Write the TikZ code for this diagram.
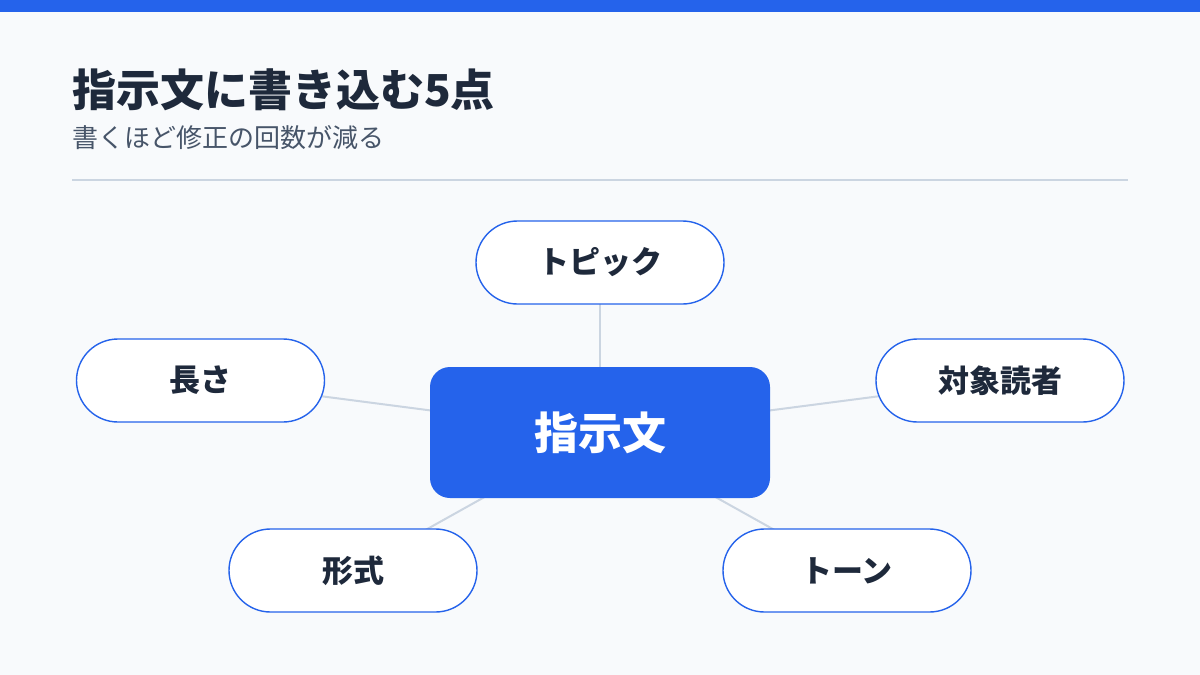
\documentclass[tikz,border=0pt]{standalone}
\usepackage{fontspec}
\newfontfamily\jp{Noto Sans CJK JP}
\usetikzlibrary{backgrounds}
\definecolor{bgc}{HTML}{F8FAFC}
\definecolor{accent}{HTML}{2563EB}
\definecolor{ink}{HTML}{1E293B}
\definecolor{sub}{HTML}{475569}
\definecolor{rule}{HTML}{CBD5E1}
\tikzset{
  txt/.style={inner sep=0pt, anchor=west},
  pill/.style={draw=accent, line width=1.4pt, fill=white, rounded corners=41.5pt,
    minimum width=248pt, minimum height=83pt, inner sep=0pt,
    font=\jp\bfseries\fontsize{31}{36}\selectfont, text=ink},
  hub/.style={fill=accent, rounded corners=20pt, minimum width=340pt, minimum height=131pt,
    inner sep=0pt, font=\jp\bfseries\fontsize{44}{50}\selectfont, text=white},
  edge/.style={draw=rule, line width=2pt}
}
\begin{document}
\begin{tikzpicture}[x=1pt,y=-1pt]
\useasboundingbox (0,0) rectangle (1200,675);
\node[txt, font=\jp\bfseries\fontsize{44}{50}\selectfont, text=ink] (title) at (72,90) {指示文に書き込む5点};
\node[txt, font=\jp\fontsize{26}{30}\selectfont, text=sub] (subtitle) at (72,138) {書くほど修正の回数が減る};
\coordinate (rl) at (72,180);
\coordinate (rr) at (1128,180);
\draw[rule, line width=1.2pt] (rl) -- (rr);
\node[hub] (hub) at (600,432.5) {指示文};
\node[pill] (topic) at (600,262.5) {トピック};
\node[pill] (len) at (200.5,380.5) {長さ};
\node[pill] (aud) at (1000,380.5) {対象読者};
\node[pill] (fmt) at (353,570.5) {形式};
\node[pill] (tone) at (847,570.5) {トーン};
\begin{scope}[on background layer]
\fill[bgc] (0,0) rectangle (1200,675);
\fill[accent] (0,0) rectangle (1200,12);
\draw[edge] (hub.center) -- (topic.center);
\draw[edge] (hub.center) -- (len.center);
\draw[edge] (hub.center) -- (aud.center);
\draw[edge] (hub.center) -- (fmt.center);
\draw[edge] (hub.center) -- (tone.center);
\end{scope}
\end{tikzpicture}
\end{document}
